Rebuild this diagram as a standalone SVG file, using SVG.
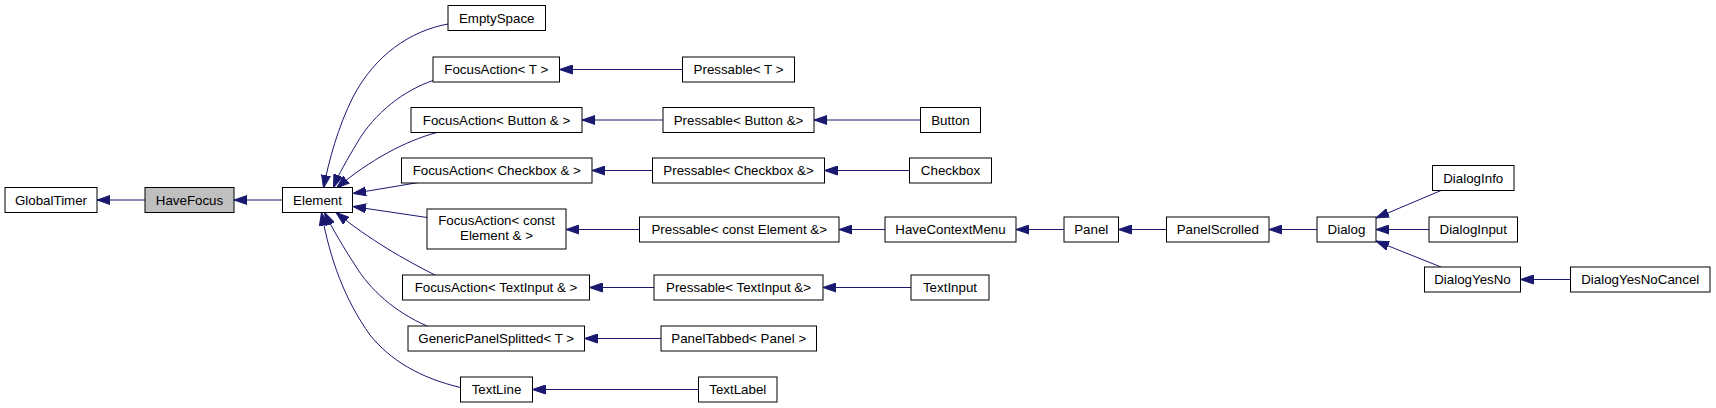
<svg xmlns="http://www.w3.org/2000/svg" width="1716" height="408" viewBox="0 0 1716 408">
<defs>
<marker id="ah" viewBox="0 0 13 10" refX="13" refY="5" markerWidth="13" markerHeight="10" markerUnits="userSpaceOnUse" orient="auto">
<path d="M0,0.5 L13,5 L0,9.5 z" fill="#191970" stroke="#191970" stroke-width="1"/>
</marker>
</defs>
<style>
.n rect{fill:#fff;stroke:#000;stroke-width:1}
.n.cur rect{fill:#bfbfbf}
.n text{font-family:"Liberation Sans",Arial,sans-serif;font-size:13.33px;text-anchor:middle;fill:#000}
#edges path{fill:none;stroke:#191970;stroke-width:1;marker-end:url(#ah)}
</style>
<rect width="1716" height="408" fill="#fff"/>
<g id="edges">
<path d="M145,200 L97,200"/>
<path d="M282.5,200 L234,200"/>
<path d="M448,24 C410,31 375,55 353,97 C338,127 329,160 323.5,188"/>
<path d="M433,80.5 C405,90 375,112 357,143 C347,160 339,173 333.5,187.5"/>
<path d="M437,132.5 C405,141 370,160 336.5,188"/>
<path d="M418.5,182.5 L353,193.5"/>
<path d="M427,217.5 L353,206.5"/>
<path d="M435,275 C405,260 370,240 336,212.5"/>
<path d="M427,326 C395,312 370,290 355,265 C345,250 332,228 324.5,212.5"/>
<path d="M460.5,387.5 C420,378 390,360 370,335 C345,300 330,260 321.5,212.5"/>
<path d="M682.5,69.5 L559.5,69.5"/>
<path d="M663,120 L582,120"/>
<path d="M920.5,120 L814,120"/>
<path d="M652.5,170.5 L592,170.5"/>
<path d="M909.5,170.5 L824.5,170.5"/>
<path d="M639.5,229.5 L566,229.5"/>
<path d="M885,229.5 L839,229.5"/>
<path d="M1064,229.5 L1016,229.5"/>
<path d="M1166.5,229.5 L1118.5,229.5"/>
<path d="M1317,229.5 L1269,229.5"/>
<path d="M1441,190.5 L1376,218"/>
<path d="M1429,229.5 L1376,229.5"/>
<path d="M1441,267 L1376,241"/>
<path d="M1570.5,279.5 L1520.5,279.5"/>
<path d="M654,287.5 L589.5,287.5"/>
<path d="M911,287.5 L823,287.5"/>
<path d="M661,338.5 L584.5,338.5"/>
<path d="M698.5,389.5 L532.5,389.5"/>
</g>
<g id="GlobalTimer" class="n"><rect x="5" y="187.5" width="92" height="25"/><text x="51" y="204.7">GlobalTimer</text></g>
<g id="HaveFocus" class="n cur"><rect x="145" y="187.5" width="89" height="25"/><text x="189.5" y="204.7">HaveFocus</text></g>
<g id="Element" class="n"><rect x="282.5" y="187.5" width="70" height="25"/><text x="317.5" y="204.7">Element</text></g>
<g id="EmptySpace" class="n"><rect x="448" y="5.5" width="97.5" height="25"/><text x="496.75" y="22.7">EmptySpace</text></g>
<g id="FocusActionT" class="n"><rect x="433" y="57" width="126.5" height="25"/><text x="496.25" y="74.2">FocusAction&lt; T &gt;</text></g>
<g id="PressableT" class="n"><rect x="682.5" y="57" width="112" height="25"/><text x="738.5" y="74.2">Pressable&lt; T &gt;</text></g>
<g id="FocusActionButton" class="n"><rect x="411" y="107.5" width="171" height="25"/><text x="496.5" y="124.7">FocusAction&lt; Button &amp; &gt;</text></g>
<g id="PressableButton" class="n"><rect x="663" y="107.5" width="151" height="25"/><text x="738.5" y="124.7">Pressable&lt; Button &amp;&gt;</text></g>
<g id="Button" class="n"><rect x="920.5" y="107.5" width="60" height="25"/><text x="950.5" y="124.7">Button</text></g>
<g id="FocusActionCheckbox" class="n"><rect x="401.5" y="158" width="190.5" height="25"/><text x="496.75" y="175.2">FocusAction&lt; Checkbox &amp; &gt;</text></g>
<g id="PressableCheckbox" class="n"><rect x="652.5" y="158" width="172" height="25"/><text x="738.5" y="175.2">Pressable&lt; Checkbox &amp;&gt;</text></g>
<g id="Checkbox" class="n"><rect x="909.5" y="158" width="82" height="25"/><text x="950.5" y="175.2">Checkbox</text></g>
<g id="FocusActionConstElement" class="n"><rect x="427" y="209" width="139" height="40"/><text x="496.5" y="225.2">FocusAction&lt; const</text><text x="496.5" y="240.2">Element &amp; &gt;</text></g>
<g id="PressableConstElement" class="n"><rect x="639.5" y="217" width="199.5" height="25"/><text x="739.25" y="234.2">Pressable&lt; const Element &amp;&gt;</text></g>
<g id="HaveContextMenu" class="n"><rect x="885" y="217" width="131" height="25"/><text x="950.5" y="234.2">HaveContextMenu</text></g>
<g id="Panel" class="n"><rect x="1064" y="217" width="54.5" height="25"/><text x="1091.25" y="234.2">Panel</text></g>
<g id="PanelScrolled" class="n"><rect x="1166.5" y="217" width="102.5" height="25"/><text x="1217.75" y="234.2">PanelScrolled</text></g>
<g id="Dialog" class="n"><rect x="1317" y="217" width="59" height="25"/><text x="1346.5" y="234.2">Dialog</text></g>
<g id="DialogInfo" class="n"><rect x="1432.5" y="165.5" width="81.5" height="25"/><text x="1473.25" y="182.7">DialogInfo</text></g>
<g id="DialogInput" class="n"><rect x="1429" y="217" width="88.5" height="25"/><text x="1473.25" y="234.2">DialogInput</text></g>
<g id="DialogYesNo" class="n"><rect x="1424.5" y="267" width="96" height="25"/><text x="1472.5" y="284.2">DialogYesNo</text></g>
<g id="DialogYesNoCancel" class="n"><rect x="1570.5" y="267" width="139.5" height="25"/><text x="1640.25" y="284.2">DialogYesNoCancel</text></g>
<g id="FocusActionTextInput" class="n"><rect x="402.5" y="275" width="187" height="25"/><text x="496" y="292.2">FocusAction&lt; TextInput &amp; &gt;</text></g>
<g id="PressableTextInput" class="n"><rect x="654" y="275" width="169" height="25"/><text x="738.5" y="292.2">Pressable&lt; TextInput &amp;&gt;</text></g>
<g id="TextInput" class="n"><rect x="911" y="275" width="78" height="25"/><text x="950" y="292.2">TextInput</text></g>
<g id="GenericPanelSplitted" class="n"><rect x="408" y="326" width="176.5" height="25"/><text x="496.25" y="343.2">GenericPanelSplitted&lt; T &gt;</text></g>
<g id="PanelTabbed" class="n"><rect x="661" y="326" width="155.5" height="25"/><text x="738.75" y="343.2">PanelTabbed&lt; Panel &gt;</text></g>
<g id="TextLine" class="n"><rect x="460.5" y="377" width="72" height="25"/><text x="496.5" y="394.2">TextLine</text></g>
<g id="TextLabel" class="n"><rect x="698.5" y="377" width="78.5" height="25"/><text x="737.75" y="394.2">TextLabel</text></g>
</svg>
